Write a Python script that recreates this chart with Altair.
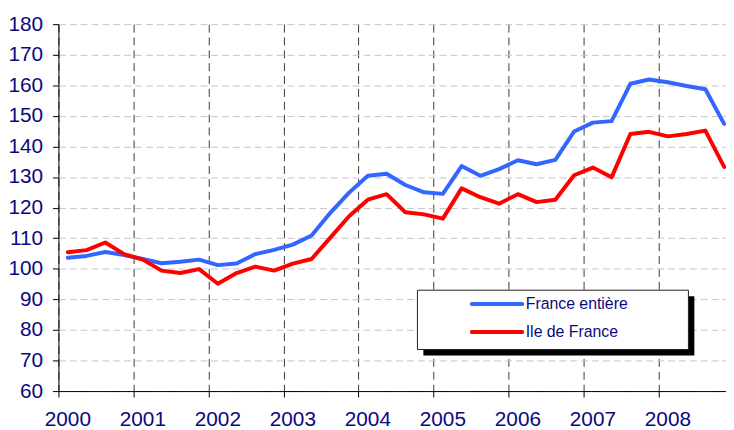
import altair as alt
import pandas as pd

# Quarterly periods 2000T1 .. 2008T4
periods = [f"{y}T{q}" for y in range(2000, 2009) for q in range(1, 5)]

france_entiere = [103.6, 104.2, 105.5, 104.5, 103.2, 101.8, 102.3, 103.0,
                  101.2, 101.7, 104.8, 106.2, 107.9, 110.9, 118.3, 124.9,
                  130.4, 131.1, 127.4, 125.0, 124.5, 133.6, 130.4, 132.6,
                  135.5, 134.2, 135.6, 144.9, 147.8, 148.3, 160.5, 161.9,
                  161.0, 159.8, 158.7, 147.4]
ile_de_france = [105.4, 106.1, 108.6, 104.8, 103.0, 99.4, 98.6, 99.9,
                 95.1, 98.6, 100.7, 99.4, 101.7, 103.2, 110.2, 117.2,
                 122.6, 124.4, 118.5, 117.8, 116.4, 126.3, 123.4, 121.3,
                 124.4, 121.8, 122.6, 130.6, 133.1, 129.9, 144.1, 144.8,
                 143.3, 144.1, 145.2, 133.3]

series_names = ["France entière", "Ile de France"]
series_colors = ["#3366ff", "#ff0000"]
year_ticks = list(range(2000, 2009))
y_ticks = list(range(60, 181, 10))

FONT = "Liberation Sans"
LABEL_COLOR = "#0a0a80"

rows = []
for name, vals in zip(series_names, [france_entiere, ile_de_france]):
    for p, v in zip(periods, vals):
        t = int(p[:4]) + (int(p[-1]) - 0.5) / 4
        rows.append({"periode": p, "t": t, "serie": name, "valeur": v})
df = pd.DataFrame(rows)

lines = alt.Chart(df).mark_line(strokeWidth=4, strokeCap="round", strokeJoin="round").encode(
    x=alt.X("t:Q",
            scale=alt.Scale(domain=[2000, 2008.9], nice=False, zero=False),
            axis=alt.Axis(values=year_ticks, format="d", title=None,
                          grid=True, gridColor="#3a3a3a", gridDash=[8, 5], gridWidth=1,
                          tickSize=6, tickColor="black", domainColor="black",
                          labelFontSize=21, labelColor=LABEL_COLOR, labelFont=FONT,
                          labelPadding=12, labelOffset=9, labelFlush=False, labelOverlap=False)),
    y=alt.Y("valeur:Q",
            scale=alt.Scale(domain=[60, 180], nice=False, zero=False),
            axis=alt.Axis(values=y_ticks, title=None,
                          grid=True, gridColor="#c4c4c4", gridDash=[7, 4], gridWidth=1,
                          tickSize=6, tickColor="black", domainColor="black",
                          labelFontSize=21, labelColor=LABEL_COLOR, labelFont=FONT,
                          labelPadding=10, labelFlush=False, labelOverlap=False)),
    color=alt.Color("serie:N", scale=alt.Scale(domain=series_names, range=series_colors),
                    legend=None),
    detail="serie:N",
)

one = pd.DataFrame({"k": [0]})

shadow = alt.Chart(one).mark_rect(color="black").encode(
    x=alt.value(369), x2=alt.value(643), y=alt.value(275), y2=alt.value(335))
box = alt.Chart(one).mark_rect(fill="white", stroke="#222222", strokeWidth=1).encode(
    x=alt.value(363), x2=alt.value(637), y=alt.value(269), y2=alt.value(329))

legend_layers = []
for i, (name, col) in enumerate(zip(series_names, series_colors)):
    yy = 283 + i * 28.3
    legend_layers.append(
        alt.Chart(one).mark_rule(color=col, strokeWidth=4, strokeCap="round").encode(
            x=alt.value(418), x2=alt.value(469), y=alt.value(yy)))
    legend_layers.append(
        alt.Chart(one).mark_text(text=name, align="left", baseline="middle",
                                 font=FONT, fontSize=16, color=LABEL_COLOR).encode(
            x=alt.value(472.5), y=alt.value(yy)))

chart = alt.layer(lines, shadow, box, *legend_layers).properties(
    width=675, height=371,
    padding={"left": 51, "top": 14, "right": 0, "bottom": 37},
    autosize=alt.AutoSizeParams(type="none"),
).configure_view(stroke=None)

chart.save("out.html", embed_options={"renderer": "svg", "actions": False})
